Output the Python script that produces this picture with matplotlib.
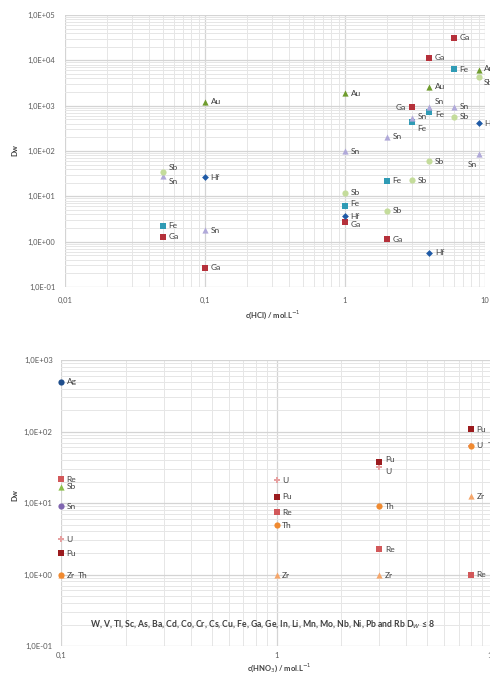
import numpy as np
import matplotlib
matplotlib.use("Agg")
import matplotlib.pyplot as plt
from matplotlib.ticker import FuncFormatter, LogLocator, NullFormatter

plt.rcParams['font.family'] = ['Lato', 'DejaVu Sans']

nan = np.nan

# ---- HCl data: distribution ratios Dw vs c(HCl) ----
hcl_conc = [0.05, 0.1, 1, 2, 3, 4, 6, 9]
hcl_ga = [1.27, 0.263, 2.72, 1.13, 915, 11400, 31500, nan]
hcl_fe = [2.22, nan, 6.05, 21.9, 440, 721, 6300, nan]
hcl_au = [nan, 1217, 1865, nan, nan, 2610, nan, 6100]
hcl_sn = [27.8, 1.79, 99, 205, 525, 944, 944, 84]
hcl_sb = [34.6, nan, 11.9, 4.77, 22.7, 59.7, 568, 4200]
hcl_hf = [nan, 26, 3.64, nan, nan, 0.574, nan, 405]

# ---- HNO3 data: distribution ratios Dw vs c(HNO3) ----
hno3_conc = [0.1, 1, 3, 8]
hno3_ag = [497, nan, nan, nan]
hno3_re = [21.5, 7.41, 2.25, 1.0]
hno3_sb = [16.9, nan, nan, nan]
hno3_sn = [9.08, nan, nan, nan]
hno3_u = [3.14, 21.0, 31.6, 63]
hno3_pu = [1.98, 12.2, 37, 108]
hno3_zr = [0.98, 0.98, 0.98, 12.5]
hno3_th = [0.98, 4.92, 9.08, 63]

note_text = ("W, V, Tl, Sc, As, Ba, Cd, Co, Cr, Cs, Cu, Fe, Ga, Ge, In, Li, Mn, Mo, "
             "Nb, Ni, Pb and Rb D$_W$ \u2264 8")

# series styles: (label, values, marker, colour)
hcl_series = [
    ("Ga", hcl_ga, "s", "#b5303a"),
    ("Fe", hcl_fe, "s", "#2f9bb5"),
    ("Au", hcl_au, "^", "#6f9c2e"),
    ("Sn", hcl_sn, "^", "#b0a9d9"),
    ("Sb", hcl_sb, "o", "#c4dc9b"),
    ("Hf", hcl_hf, "D", "#1f5aa6"),
]
hno3_series = [
    ("Ag", hno3_ag, "o", "#1f4e8c"),
    ("Re", hno3_re, "s", "#d2585a"),
    ("Sb", hno3_sb, "^", "#8dc04a"),
    ("Sn", hno3_sn, "o", "#8066b0"),
    ("U", hno3_u, "P", "#e6a0a0"),
    ("Pu", hno3_pu, "s", "#9b1b1e"),
    ("Zr", hno3_zr, "^", "#f5a66a"),
    ("Th", hno3_th, "o", "#f08a30"),
]

# label offsets in points (default is to the right of the marker)
hcl_offsets = {
    ("Sb", 0.05): (4, 3), ("Sn", 0.05): (4, -4),
    ("Ga", 3): (-4, 0), ("Sn", 4): (4, 4), ("Fe", 4): (4, -2),
    ("Fe", 3): (4, -5), ("Sn", 3): (4, 1),
    ("Sn", 9): (-8, -7), ("Sb", 9): (4, -4), ("Au", 9): (4, 1),
    ("Fe", 1): (4, 2), ("Ga", 1): (4, -2),
}
hno3_offsets = {
    ("U", 3): (4, -3), ("Pu", 3): (4, 2),
    ("Th", 8): (12, 0), ("Th", 0.1): (12, 0),
}


def sci_fmt(v, pos):
    if v <= 0:
        return ""
    e = int(np.round(np.log10(v)))
    return f"1,0E{e:+03d}"


def x_fmt(v, pos):
    s = f"{v:g}"
    return s.replace(".", ",")


def style_axes(ax, xlim, ylim, ypad, xpad, size):
    ax.set_xscale("log")
    ax.set_yscale("log")
    ax.set_xlim(*xlim)
    ax.set_ylim(*ylim)
    ax.xaxis.set_major_locator(LogLocator(base=10, numticks=20))
    ax.yaxis.set_major_locator(LogLocator(base=10, numticks=20))
    ax.xaxis.set_minor_locator(LogLocator(base=10, subs=np.arange(2, 10), numticks=20))
    ax.yaxis.set_minor_locator(LogLocator(base=10, subs=np.arange(2, 10), numticks=20))
    ax.xaxis.set_minor_formatter(NullFormatter())
    ax.yaxis.set_minor_formatter(NullFormatter())
    ax.xaxis.set_major_formatter(FuncFormatter(x_fmt))
    ax.yaxis.set_major_formatter(FuncFormatter(sci_fmt))
    ax.grid(True, which="major", color="#d4d4d4", linewidth=0.9)
    ax.grid(True, which="minor", color="#e6e6e6", linewidth=0.7)
    ax.set_axisbelow(True)
    for sp in ax.spines.values():
        sp.set_visible(False)
    ax.tick_params(which="both", length=0)
    ax.tick_params(axis="y", labelsize=size, labelcolor="#595959", pad=ypad)
    ax.tick_params(axis="x", labelsize=size, labelcolor="#595959", pad=xpad)


def draw(ax, conc, series, offsets):
    for name, vals, marker, color in series:
        ax.scatter(conc, vals, marker=marker, s=20 if marker != "D" else 12,
                   color=color, zorder=3, linewidths=0, clip_on=False)
        for x, y in zip(conc, vals):
            if np.isnan(y):
                continue
            dx, dy = offsets.get((name, x), (4, 0))
            ax.annotate(name, (x, y), xytext=(dx, dy), textcoords="offset points",
                        ha="right" if dx < 0 and dy == 0 else "left", va="center",
                        fontsize=6, color="#404040", annotation_clip=False)


fig = plt.figure(figsize=(4.9, 6.74), dpi=100)

ax1 = fig.add_axes([0.1327, 0.5742, 0.857, 0.4036])
style_axes(ax1, (0.01, 10), (0.1, 1e5), 7, 7, 5.4)
draw(ax1, hcl_conc, hcl_series, hcl_offsets)
fig.text(0.557, 0.533, "c(HCl) / mol.L$^{-1}$", ha="center", va="center",
         fontsize=5.5, fontweight="bold", color="#404040")
fig.text(0.03, 0.778, "Dw", rotation=90, ha="center", va="center",
         fontsize=5.5, fontweight="bold", color="#404040")

ax2 = fig.add_axes([0.1245, 0.0415, 0.8796, 0.4243])
style_axes(ax2, (0.1, 10), (0.1, 1e3), 6, 4, 5.6)
draw(ax2, hno3_conc, hno3_series, hno3_offsets)
ax2.text(0.067, 0.077, note_text, transform=ax2.transAxes, ha="left", va="center",
         fontsize=6.2, fontweight="bold", color="#404040")
fig.text(0.571, 0.009, "c(HNO$_3$) / mol.L$^{-1}$", ha="center", va="center",
         fontsize=5.5, fontweight="bold", color="#404040")
fig.text(0.03, 0.265, "Dw", rotation=90, ha="center", va="center",
         fontsize=5.5, fontweight="bold", color="#404040")

fig.savefig("out.png", dpi=100)
